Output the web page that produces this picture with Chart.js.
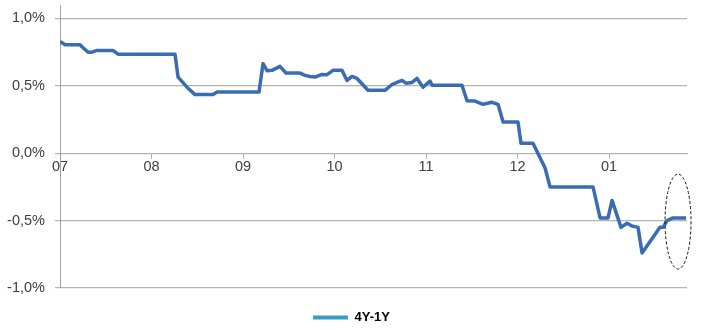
<!DOCTYPE html>
<html>
<head>
<meta charset="utf-8">
<script src="https://cdn.jsdelivr.net/npm/chart.js@4"></script>
<style>
  body { margin: 0; background: #fff; }
  canvas { display: block; }
</style>
</head>
<body>
<canvas id="spreadChart" width="707" height="330"></canvas>
<script>
// decimal years
const dates = [
    2007.000, 2007.055, 2007.219, 2007.240, 2007.306, 2007.350, 2007.404, 2007.579, 2007.634,
    2008.257, 2008.290, 2008.388, 2008.475, 2008.672, 2008.716,
    2009.175, 2009.219, 2009.262, 2009.317, 2009.404, 2009.470, 2009.623, 2009.678, 2009.732,
    2009.787, 2009.863, 2009.918, 2009.984,
    2010.082, 2010.137, 2010.191, 2010.246, 2010.366, 2010.552, 2010.628, 2010.683, 2010.738,
    2010.781, 2010.847, 2010.902, 2010.967, 2011.044, 2011.066,
    2011.393, 2011.448, 2011.536, 2011.623, 2011.721, 2011.787, 2011.842,
    2012.005, 2012.038, 2012.169, 2012.301, 2012.355, 2012.825, 2012.902, 2012.989,
    2013.033, 2013.131, 2013.197, 2013.251, 2013.317, 2013.361, 2013.557, 2013.590,
    2013.634, 2013.699, 2013.842
];
// 4Y-1Y spread in %
const spread = [
    0.83, 0.805, 0.805, 0.79, 0.75, 0.75, 0.763, 0.763, 0.735,
    0.735, 0.565, 0.49, 0.435, 0.435, 0.455,
    0.455, 0.665, 0.612, 0.615, 0.645, 0.595, 0.595, 0.578, 0.57,
    0.565, 0.585, 0.583, 0.615,
    0.615, 0.54, 0.57, 0.555, 0.467, 0.467, 0.51, 0.525, 0.54,
    0.52, 0.525, 0.555, 0.49, 0.535, 0.505,
    0.505, 0.39, 0.387, 0.363, 0.378, 0.363, 0.232,
    0.232, 0.074, 0.074, -0.11, -0.25, -0.25, -0.48, -0.48,
    -0.35, -0.55, -0.52, -0.54, -0.55, -0.74, -0.55, -0.55,
    -0.5, -0.48, -0.48
];

const xTickYears = [2007, 2008, 2009, 2010, 2011, 2012, 2013];
const xTickLabels = ["07", "08", "09", "10", "11", "12", "01"];
const yTicks = [-1.0, -0.5, 0.0, 0.5, 1.0];

const gridColor = "#b3b3b3";
const textColor = "#404040";

// dashed ellipse round the last points
const ellipseMark = {
    id: "ellipseMark",
    afterDatasetsDraw(chart) {
        const { ctx, scales } = chart;
        const cx = scales.x.getPixelForValue(2013.754);
        const cy = scales.y.getPixelForValue(-0.507);
        ctx.save();
        ctx.beginPath();
        ctx.setLineDash([3, 2]);
        ctx.lineWidth = 1;
        ctx.strokeStyle = "#111";
        ctx.ellipse(cx, cy, 13, 47.5, 0, 0, Math.PI * 2);
        ctx.stroke();
        ctx.restore();
    },
};

const ctx = document.getElementById("spreadChart").getContext("2d");

new Chart(ctx, {
    type: "line",
    data: {
        datasets: [
            {
                label: "4Y-1Y",
                data: dates.map((d, i) => ({ x: d, y: spread[i] })),
                borderColor: "#3a6cb2",
                borderWidth: 3.5,
                pointRadius: 0,
                tension: 0,
                borderJoinStyle: "round",
            },
        ],
    },
    options: {
        responsive: false,
        animation: false,
        layout: { padding: { top: 5, right: 4, left: 0, bottom: 0 } },
        scales: {
            x: {
                type: "linear",
                position: { y: 0 },
                min: 2007,
                max: 2013.852,
                afterBuildTicks: (scale) => {
                    scale.ticks = xTickYears.map((v) => ({ value: v }));
                },
                grid: {
                    drawOnChartArea: false,
                    drawTicks: true,
                    tickLength: 5,
                    color: gridColor,
                },
                border: { display: true, color: gridColor },
                ticks: {
                    autoSkip: false,
                    maxRotation: 0,
                    padding: 0,
                    color: textColor,
                    font: { family: "Liberation Sans, Arial", size: 14.5 },
                    callback: (value) => xTickLabels[xTickYears.indexOf(value)],
                },
            },
            y: {
                min: -1.0,
                max: 1.1,
                afterFit: (scale) => {
                    scale.width = 60;
                    scale.paddingTop = 0;
                    scale.paddingBottom = 0;
                },
                afterBuildTicks: (scale) => {
                    scale.ticks = yTicks.map((v) => ({ value: v }));
                },
                grid: {
                    color: gridColor,
                    lineWidth: 1.2,
                    drawTicks: true,
                    tickLength: 5,
                },
                border: { display: true, color: "#a0a0a0" },
                ticks: {
                    padding: 10,
                    color: textColor,
                    font: { family: "Liberation Sans, Arial", size: 14.5 },
                    callback: (value) => value.toFixed(1).replace(".", ",") + "%",
                },
            },
            // empty right-hand spacer so the legend stays centred as in the source
            spacer: {
                position: "right",
                grid: { display: false },
                border: { display: false },
                ticks: { display: false },
                afterFit: (scale) => {
                    scale.width = 16;
                    scale.paddingTop = 0;
                    scale.paddingBottom = 0;
                },
            },
        },
        plugins: {
            tooltip: { enabled: false },
            legend: {
                position: "bottom",
                maxHeight: 42,
                labels: {
                    padding: 23,
                    boxWidth: 35,
                    boxHeight: 4,
                    color: textColor,
                    font: { family: "Liberation Sans, Arial", size: 13, weight: "bold" },
                    generateLabels: () => [
                        {
                            text: "4Y-1Y",
                            fillStyle: "#3a9dc6",
                            strokeStyle: "#3a9dc6",
                            lineWidth: 0,
                            hidden: false,
                            datasetIndex: 0,
                        },
                    ],
                },
            },
        },
    },
    plugins: [ellipseMark],
});
</script>
</body>
</html>
